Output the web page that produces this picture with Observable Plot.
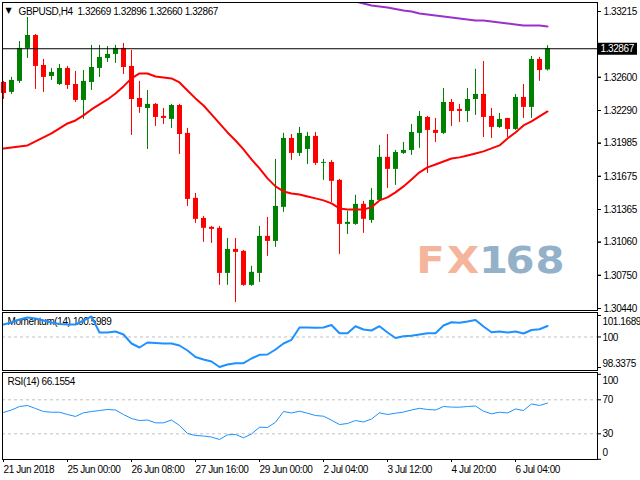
<!DOCTYPE html>
<html><head><meta charset="utf-8">
<script src="https://cdn.jsdelivr.net/npm/d3@7"></script>
<script src="https://cdn.jsdelivr.net/npm/@observablehq/plot@0.6"></script>
<style>
html,body{margin:0;padding:0;background:#fff;}
#chart{position:relative;width:640px;height:480px;overflow:hidden;background:#fff;font-family:"Liberation Sans",Arial,sans-serif;}
#chart svg{position:absolute;left:0;}
#chart svg text{letter-spacing:-0.4px;}
.wm{position:absolute;top:240px;height:40px;font-family:"DejaVu Sans",sans-serif;font-weight:bold;font-size:38px;line-height:40px;text-align:center;transform:scaleX(1.1);transform-origin:center;}
.wm.fx{color:#f5b59c;}
.wm.num{color:#93b1c9;}
</style></head>
<body><div id="chart">
<div class="wm fx" style="left:416px;width:29px">F</div><div class="wm fx" style="left:448px;width:30px">X</div><div class="wm num" style="left:480px;width:22px">1</div><div class="wm num" style="left:506px;width:28px">6</div><div class="wm num" style="left:536px;width:28px">8</div>
</div>
<script>
const symbol = "GBPUSD,H4";
const opens = [1.32552,1.32459,1.32562,1.32870,1.32991,1.32711,1.32608,1.32533,1.32683,1.32533,
1.32384,1.32552,1.32683,1.32776,1.32814,1.32870,1.32702,1.32403,1.32309,1.32347,
1.32235,1.32207,1.32337,1.32076,1.31469,1.31282,1.31198,1.31189,1.30768,1.30992,
1.30974,1.30656,1.30768,1.31114,1.31067,1.31385,1.32029,1.31889,1.31926,1.32048,
1.31796,1.31805,1.31637,1.31226,1.31226,1.31413,1.31263,1.31450,1.31852,1.31740,
1.31889,1.31917,1.32076,1.32225,1.32104,1.32076,1.32365,1.32300,1.32281,1.32393,
1.32440,1.32235,1.32132,1.32216,1.32113,1.32412,1.32319,1.32767,1.32669];
const highs = [1.32562,1.32599,1.32935,1.33159,1.33000,1.32767,1.32683,1.32720,1.32702,1.32655,
1.32664,1.32898,1.32898,1.32888,1.32898,1.32916,1.32851,1.32562,1.32477,1.32356,
1.32309,1.32347,1.32347,1.32123,1.31515,1.31301,1.31207,1.31207,1.31095,1.31095,
1.30983,1.30834,1.31207,1.31291,1.31833,1.32076,1.32066,1.32132,1.32085,1.32085,
1.31833,1.31824,1.31646,1.31347,1.31497,1.31441,1.31562,1.31964,1.32066,1.31917,
1.31992,1.32160,1.32281,1.32235,1.32216,1.32496,1.32393,1.32347,1.32496,1.32674,
1.32748,1.32309,1.32263,1.32216,1.32440,1.32533,1.32795,1.32786,1.32896];
const lows = [1.32393,1.32440,1.32543,1.32776,1.32487,1.32459,1.32571,1.32524,1.32487,1.32365,
1.32207,1.32477,1.32599,1.32739,1.32730,1.32627,1.32057,1.32263,1.31926,1.32141,
1.32160,1.32123,1.31880,1.31394,1.31235,1.31058,1.31048,1.30656,1.30656,1.30497,
1.30647,1.30647,1.30684,1.30927,1.31011,1.31338,1.31824,1.31861,1.31786,1.31777,
1.31637,1.31431,1.30946,1.31132,1.31217,1.31142,1.31235,1.31441,1.31562,1.31590,
1.31880,1.31870,1.31936,1.31702,1.31992,1.32066,1.32141,1.32179,1.32179,1.32244,
1.32038,1.32029,1.32123,1.32038,1.32104,1.32216,1.32216,1.32562,1.32660];
const closes = [1.32449,1.32571,1.32870,1.32991,1.32702,1.32599,1.32646,1.32683,1.32524,1.32384,
1.32562,1.32692,1.32786,1.32814,1.32870,1.32692,1.32393,1.32319,1.32347,1.32225,
1.32216,1.32337,1.32066,1.31459,1.31273,1.31189,1.31179,1.30768,1.30992,1.30964,
1.30656,1.30778,1.31114,1.31067,1.31394,1.32029,1.31889,1.32076,1.32048,1.31796,
1.31805,1.31628,1.31226,1.31245,1.31413,1.31273,1.31450,1.31852,1.31740,1.31898,
1.31917,1.32085,1.32235,1.32104,1.32076,1.32365,1.32281,1.32281,1.32393,1.32440,
1.32225,1.32132,1.32207,1.32113,1.32412,1.32319,1.32767,1.32664,1.32867];
const maRed = [1.31936,1.31945,1.31954,1.31964,1.32001,1.32038,1.32076,1.32123,1.32169,1.32197,
1.32244,1.32300,1.32347,1.32393,1.32449,1.32515,1.32590,1.32636,1.32636,1.32608,
1.32599,1.32590,1.32552,1.32477,1.32403,1.32337,1.32253,1.32169,1.32085,1.32010,
1.31926,1.31833,1.31749,1.31656,1.31581,1.31534,1.31515,1.31506,1.31487,1.31469,
1.31450,1.31422,1.31375,1.31366,1.31366,1.31366,1.31385,1.31450,1.31478,1.31525,
1.31581,1.31646,1.31712,1.31758,1.31786,1.31814,1.31842,1.31852,1.31870,1.31889,
1.31908,1.31936,1.31964,1.32029,1.32085,1.32151,1.32188,1.32235,1.32281];
const maPurpleStart = 43;
const maPurple = [1.33327,1.33309,1.33290,1.33271,1.33262,1.33253,1.33239,1.33225,1.33215,1.33197,
1.33187,1.33178,1.33169,1.33159,1.33150,1.33141,1.33131,1.33131,1.33122,1.33113,
1.33103,1.33094,1.33085,1.33085,1.33085,1.33075];
const momentum = [100.679,100.788,100.951,101.060,101.006,100.897,100.788,100.706,100.679,100.679,
100.897,101.114,100.243,100.243,100.298,100.134,99.644,99.427,99.699,99.672,
99.644,99.644,99.535,99.263,98.909,98.773,98.664,98.365,98.501,98.572,
98.572,98.828,99.029,99.045,99.318,99.644,99.846,100.516,100.516,100.499,
100.516,100.652,100.205,100.205,100.586,100.407,100.352,100.586,100.243,99.944,
100.042,100.064,100.134,100.205,100.205,100.624,100.804,100.772,100.842,100.924,
100.570,100.260,100.298,100.243,100.298,100.189,100.379,100.423,100.5989];
const rsi = [55.1,58.0,62.1,63.3,59.8,56.2,55.4,55.4,52.7,50.4,
54.7,56.2,57.4,58.6,58.0,52.7,48.0,45.6,46.2,42.9,
42.9,46.2,39.8,30.4,28.0,27.4,26.2,23.3,28.8,29.2,
25.3,29.8,37.8,37.4,43.6,56.2,54.5,56.6,54.2,51.5,
50.7,46.0,40.9,42.1,45.6,43.9,47.4,54.7,52.7,54.2,
55.6,58.0,60.0,58.6,58.0,62.1,61.4,61.3,62.1,62.7,
56.6,53.5,55.4,54.5,59.2,57.4,65.1,63.3,66.1554];
const priceTicks = [1.30440,1.30750,1.31060,1.31365,1.31675,1.31985,1.32290,1.32600,1.32910,1.33215];
const momTicks = [98.3375,100,101.1689];
const momTickLabels = ["98.3375","100","101.1689"];
const rsiTicks = [0,30,70,100];
const timeTickIdx = [0,8,16,24,32,40,48,56,64];
const timeLabels = ["21 Jun 2018","25 Jun 00:00","26 Jun 08:00","27 Jun 16:00","29 Jun 00:00","2 Jul 04:00","3 Jul 12:00","4 Jul 20:00","6 Jul 04:00"];

const GREEN = "#008000", RED = "#ff0000", BLUE = "#1e90ff", GRID = "#c0c0c0";
const FONT = "'Liberation Sans', Arial, sans-serif";
const xDomain = [-0.125, 74.25];
const labelBars = 5; // width of the current-price label box, in bars
const baseStyle = () => ({background:"transparent", fontFamily:FONT, fontSize:"10px", color:"#000", overflow:"visible"});

const bars = opens.map((o,i)=>({i, o, h:highs[i], l:lows[i], c:closes[i]}));
const up = bars.filter(d=>d.c>=d.o), down = bars.filter(d=>d.c<d.o);
const last = bars[bars.length-1];
const maRedData = maRed.map((v,i)=>({i, v}));
const maPurpleData = maPurple.map((v,k)=>({i:k+maPurpleStart, v}));
const header = symbol + "  " + [last.o,last.h,last.l,last.c].map(v=>v.toFixed(5)).join(" ");
// the axis label hidden under the current-price box is left out of the drawn labels
const shownPriceTicks = priceTicks.filter(t => Math.abs(t - last.c) > 0.0005);

const main = Plot.plot({
  width:640, height:311, marginLeft:2, marginRight:43, marginTop:2, marginBottom:1,
  style: baseStyle(),
  x:{domain:xDomain, axis:null, label:null},
  y:{domain:[priceTicks[0], priceTicks[priceTicks.length-1]], range:[308,11], axis:null, label:null},
  marks:[
    Plot.ruleX(up, {x:"i", y1:"l", y2:"h", stroke:GREEN, strokeWidth:1}),
    Plot.ruleX(down, {x:"i", y1:"l", y2:"h", stroke:RED, strokeWidth:1}),
    Plot.ruleX(up, {x:"i", y1:"o", y2:"c", stroke:GREEN, strokeWidth:5}),
    Plot.ruleX(down, {x:"i", y1:"o", y2:"c", stroke:RED, strokeWidth:5}),
    Plot.line(maRedData, {x:"i", y:"v", stroke:RED, strokeWidth:2}),
    Plot.line(maPurpleData, {x:"i", y:"v", stroke:"#9932cc", strokeWidth:2, clip:true}),
    Plot.ruleY([last.c], {stroke:"#000", strokeWidth:1}),
    Plot.frame({stroke:"#000"}),
    Plot.axisY(priceTicks, {anchor:"right", tickSize:3, tickFormat:()=>""}),
    Plot.axisY(shownPriceTicks, {anchor:"right", tickSize:3, tickPadding:3, tickFormat:d=>d.toFixed(5)}),
    Plot.ruleY([last.c], {y:d=>d, x1:xDomain[1], x2:xDomain[1]+labelBars, stroke:"#000", strokeWidth:12}),
    Plot.text([last.c], {y:d=>d, text:d=>d.toFixed(5), frameAnchor:"right", dx:3, textAnchor:"start", fill:"#fff"}),
    Plot.text(["\u25BC"], {frameAnchor:"top-left", dx:3, dy:5, lineAnchor:"top", textAnchor:"start", fontSize:8, fontFamily:"DejaVu Sans"}),
    Plot.text([header], {frameAnchor:"top-left", dx:16, dy:5, lineAnchor:"top", textAnchor:"start", fill:"#000"})
  ]
});

const momData = momentum.map((v,i)=>({i, v}));
const mom = Plot.plot({
  width:640, height:60, marginLeft:2, marginRight:43, marginTop:1, marginBottom:1,
  style: baseStyle(),
  x:{domain:xDomain, axis:null, label:null},
  y:{domain:[momTicks[0], momTicks[2]], range:[56,4], axis:null, label:null},
  marks:[
    Plot.ruleY([momTicks[1]], {stroke:GRID, strokeDasharray:"3,3"}),
    Plot.text(["Momentum(14) " + momentum[momentum.length-1].toFixed(4)], {frameAnchor:"top-left", dx:5, dy:5, lineAnchor:"top", textAnchor:"start", fill:"#000"}),
    Plot.line(momData, {x:"i", y:"v", stroke:BLUE, strokeWidth:2}),
    Plot.frame({stroke:"#000"}),
    Plot.axisY(momTicks, {anchor:"right", tickSize:3, tickFormat:()=>""}),
    Plot.text([2], {y:k=>momTicks[k], text:k=>momTickLabels[k], frameAnchor:"right", dx:5, dy:6, textAnchor:"start"}),
    Plot.text([1], {y:k=>momTicks[k], text:k=>momTickLabels[k], frameAnchor:"right", dx:5, dy:1, textAnchor:"start"}),
    Plot.text([0], {y:k=>momTicks[k], text:k=>momTickLabels[k], frameAnchor:"right", dx:5, dy:-4, textAnchor:"start"})
  ]
});

const rsiData = rsi.map((v,i)=>({i, v}));
const rsiPlot = Plot.plot({
  width:640, height:109, marginLeft:2, marginRight:43, marginTop:1, marginBottom:21,
  style: baseStyle(),
  x:{domain:xDomain, axis:null, label:null},
  y:{domain:[0,100], range:[87.8,2.8], axis:null, label:null},
  marks:[
    Plot.ruleY([rsiTicks[1], rsiTicks[2]], {stroke:GRID, strokeDasharray:"3,3"}),
    Plot.text(["RSI(14) " + rsi[rsi.length-1].toFixed(4)], {frameAnchor:"top-left", dx:5, dy:5, lineAnchor:"top", textAnchor:"start", fill:"#000"}),
    Plot.line(rsiData, {x:"i", y:"v", stroke:BLUE, strokeWidth:1}),
    Plot.frame({stroke:"#000"}),
    Plot.axisY(rsiTicks, {anchor:"right", tickSize:3, tickFormat:()=>""}),
    Plot.text([rsiTicks[3]], {y:d=>d, text:d=>String(d), frameAnchor:"right", dx:5, dy:6, textAnchor:"start"}),
    Plot.text([rsiTicks[1], rsiTicks[2]], {y:d=>d, text:d=>String(d), frameAnchor:"right", dx:5, textAnchor:"start"}),
    Plot.text([rsiTicks[0]], {y:d=>d, text:d=>String(d), frameAnchor:"right", dx:5, dy:-7, textAnchor:"start"}),
    Plot.axisX(timeTickIdx, {anchor:"bottom", tickSize:3, tickFormat:()=>""}),
    Plot.text(timeTickIdx, {x:d=>d, text:(d,i)=>timeLabels[i], frameAnchor:"bottom", lineAnchor:"top", textAnchor:"start", dy:6, fill:"#000"})
  ]
});

const chart = document.getElementById("chart");
[[main,0],[mom,311],[rsiPlot,371]].forEach(([svg,top])=>{
  svg.style.position = "absolute";
  svg.style.left = "0px";
  svg.style.top = top + "px";
  chart.appendChild(svg);
});
</script>
</body></html>
